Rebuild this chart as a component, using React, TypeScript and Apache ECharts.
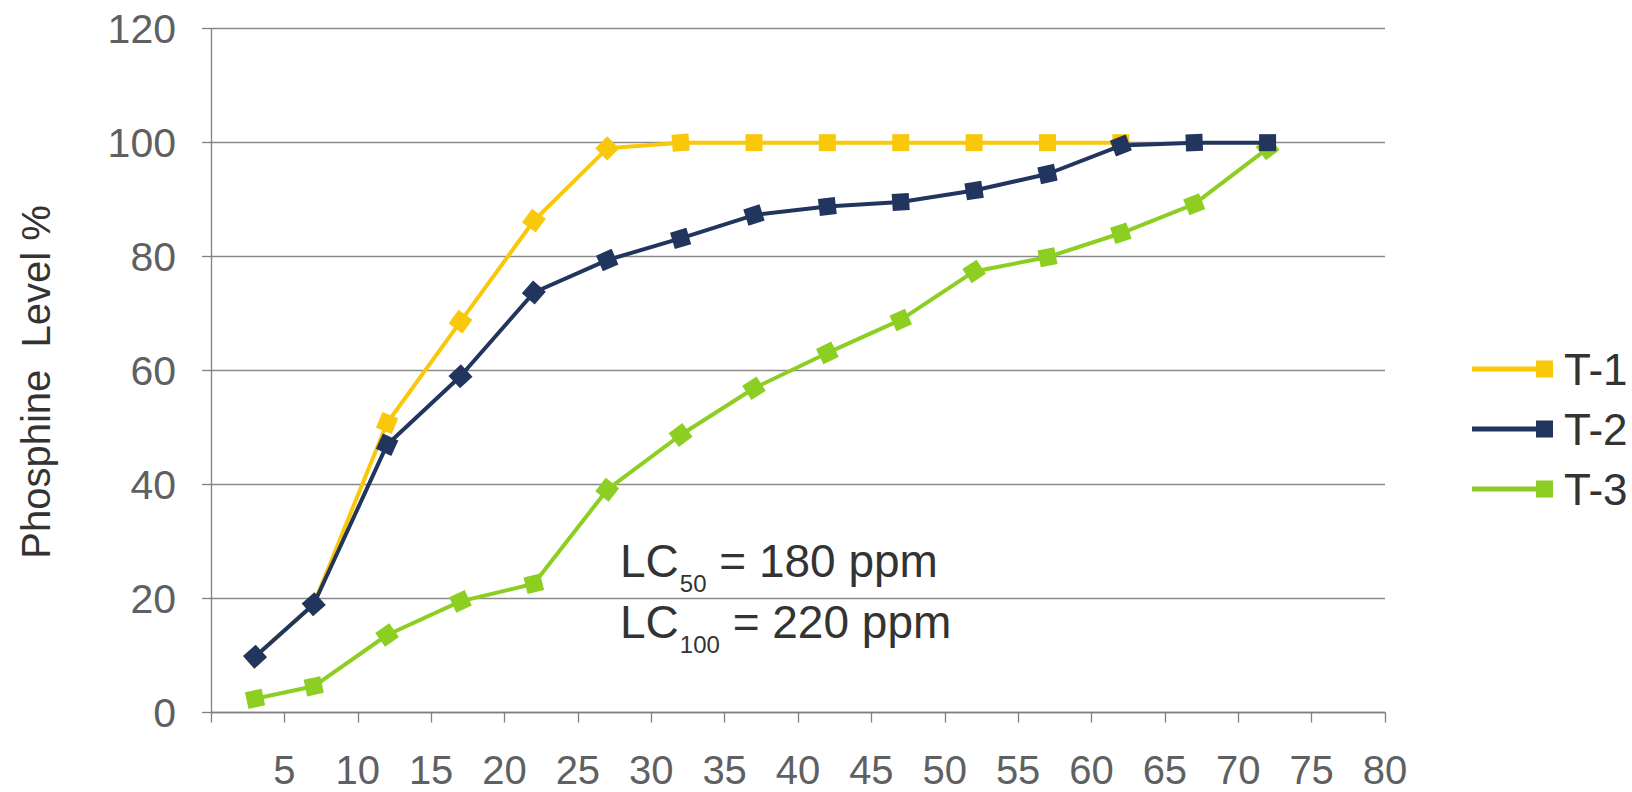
import React, { useEffect, useRef } from "react";
import * as echarts from "echarts";

// ---- data ----
const xValues = [3, 7, 12, 17, 22, 27, 32, 37, 42, 47, 52, 57, 62, 67, 72];
const seriesNames = ["T-1", "T-2", "T-3"];
const t1Values = [9.8, 19, 50.8, 68.6, 86.3, 99, 100, 100, 100, 100, 100, 100, 100];
const t2Values = [9.8, 19, 47, 59, 73.7, 79.4, 83.2, 87.3, 88.8, 89.6, 91.6, 94.5, 99.5, 100, 100];
const t3Values = [2.4, 4.6, 13.6, 19.5, 22.6, 39.1, 48.7, 56.9, 63.1, 68.9, 77.4, 79.9, 84.1, 89.2, 99];
const yAxisName = "Phosphine  Level %";
const annotationMain = ["LC", "LC"];
const annotationSub = ["50", "100"];
const annotationRest = [" = 180 ppm", " = 220 ppm"];

const colors = ["#F9C80A", "#22355F", "#8CCE22"];
const zOrder = [2, 4, 3];
const FONT = "'Liberation Sans', Arial, Helvetica, sans-serif";

function measure(text: string, size: number) {
  const c = document.createElement("canvas").getContext("2d");
  if (!c) return text.length * size * 0.55;
  c.font = `${size}px ${FONT}`;
  return c.measureText(text).width;
}

export default function App() {
  const ref = useRef<HTMLDivElement>(null);

  useEffect(() => {
    if (!ref.current) return;
    const chart = echarts.init(ref.current, null, { renderer: "svg" });
    const allValues = [t1Values, t2Values, t3Values];
    const pairs = allValues.map((vals) => vals.map((v, i) => [xValues[i], v]));

    const legendIcon = "path://M0,6L64,6L64,0L81,0L81,17L64,17L64,11L0,11Z";

    // annotation graphic
    const annGraphics: any[] = [];
    const baseX = 620;
    const baselines = [577, 638];
    const mainSize = 46;
    const subSize = 24;
    annotationMain.forEach((m, i) => {
      const w1 = measure(m, mainSize);
      const w2 = measure(annotationSub[i], subSize);
      const by = baselines[i];
      annGraphics.push({
        type: "text",
        x: baseX,
        y: by - 0.35 * mainSize,
        style: { text: m, fontSize: mainSize, fontFamily: FONT, fill: "#333333", textAlign: "left", verticalAlign: "middle" },
      });
      annGraphics.push({
        type: "text",
        x: baseX + w1 + 1,
        y: by + 15 - 0.35 * subSize,
        style: { text: annotationSub[i], fontSize: subSize, fontFamily: FONT, fill: "#333333", textAlign: "left", verticalAlign: "middle" },
      });
      annGraphics.push({
        type: "text",
        x: baseX + w1 + 1 + w2,
        y: by - 0.35 * mainSize,
        style: { text: annotationRest[i], fontSize: mainSize, fontFamily: FONT, fill: "#333333", textAlign: "left", verticalAlign: "middle" },
      });
    });

    const makeSeries = (rot?: number[][]) =>
      seriesNames.map((name, si) => ({
        name,
        type: "line",
        z: zOrder[si],
        symbol: "rect",
        symbolSize: 17,
        lineStyle: { color: colors[si], width: 4 },
        itemStyle: { color: colors[si] },
        data: pairs[si].map((p, i) => ({
          value: p,
          symbolRotate: rot ? rot[si][i] : 0,
        })),
      }));

    const option: any = {
      animation: false,
      backgroundColor: "#ffffff",
      textStyle: { fontFamily: FONT },
      grid: { left: 211, right: 247, top: 28.7, bottom: 79.5, containLabel: false },
      xAxis: {
        type: "value",
        min: 0,
        max: 80,
        interval: 5,
        axisLine: { lineStyle: { color: "#7f7f7f", width: 1.3 } },
        axisTick: { show: true, length: 10, lineStyle: { color: "#7f7f7f", width: 1.3 } },
        splitLine: { show: false },
        axisLabel: {
          color: "#5f6062",
          fontSize: 40,
          fontFamily: FONT,
          lineHeight: 30,
          margin: 42,
          formatter: (v: number) => (v === 0 ? "" : String(v)),
        },
      },
      yAxis: {
        type: "value",
        min: 0,
        max: 120,
        interval: 20,
        axisLine: { show: true, lineStyle: { color: "#7f7f7f", width: 1.3 } },
        axisTick: { show: true, length: 9, lineStyle: { color: "#7f7f7f", width: 1.3 } },
        splitLine: { show: true, lineStyle: { color: "#8a8a8a", width: 1.3 } },
        axisLabel: { color: "#5f6062", fontSize: 41, fontFamily: FONT, margin: 35 },
      },
      legend: {
        orient: "vertical",
        left: 1467,
        top: 342,
        itemWidth: 81,
        itemHeight: 17,
        itemGap: 16,
        icon: legendIcon,
        data: seriesNames,
        textStyle: { color: "#333333", fontSize: 44, fontFamily: FONT, lineHeight: 44, padding: [0, 0, 0, 6] },
      },
      graphic: [
        {
          type: "text",
          x: 36,
          y: 382,
          rotation: Math.PI / 2,
          style: {
            text: yAxisName,
            fontSize: 40,
            fontFamily: FONT,
            fill: "#333333",
            textAlign: "center",
            verticalAlign: "middle",
          },
        },
        ...annGraphics,
      ],
      series: makeSeries(),
    };
    chart.setOption(option);

    // rotate each marker along its incoming segment (outgoing for the first point)
    const rot = pairs.map((pts) => {
      const px = pts.map((p) => chart.convertToPixel({ gridIndex: 0 }, p) as number[]);
      return px.map((p, i) => {
        const a = i === 0 ? p : px[i - 1];
        const b = i === 0 ? px[1] : p;
        const dx = b[0] - a[0];
        const dyUp = a[1] - b[1];
        return (Math.atan2(dyUp, dx) * 180) / Math.PI;
      });
    });
    chart.setOption({ series: makeSeries(rot) });

    return () => chart.dispose();
  }, []);

  return (
    <div
      ref={ref}
      style={{ position: "fixed", left: 0, top: 0, width: 1632, height: 792, background: "#fff" }}
    />
  );
}
